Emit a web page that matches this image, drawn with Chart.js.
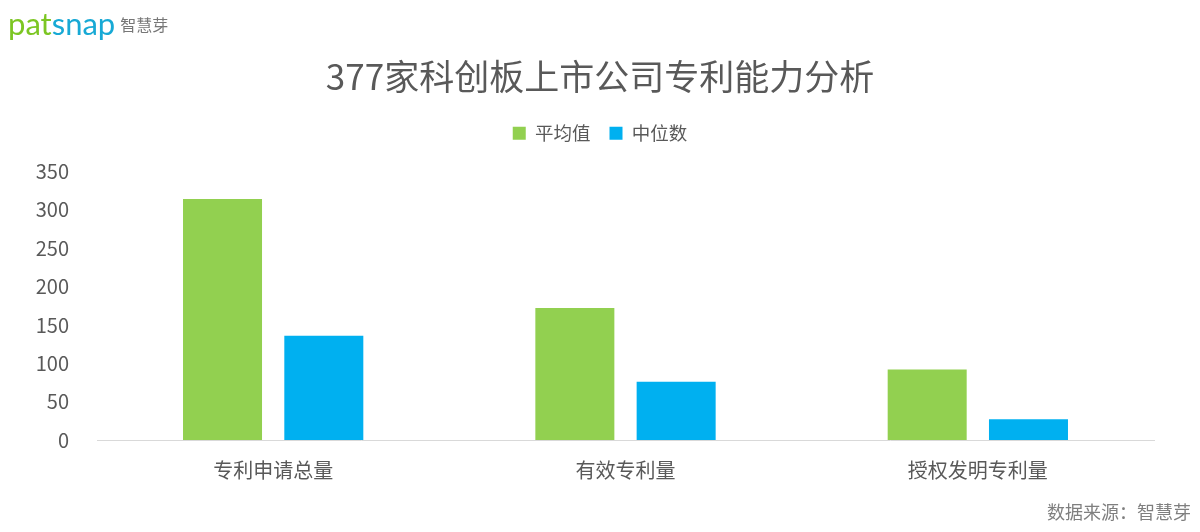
<!DOCTYPE html>
<html>
<head>
<meta charset="utf-8">
<script src="https://cdn.jsdelivr.net/npm/chart.js@4.4.0/dist/chart.umd.min.js"></script>
<style>
  html, body { margin: 0; padding: 0; background: #fff; }
  #wrap { position: relative; width: 1200px; height: 532px; font-family: "Noto Sans CJK SC", "Noto Sans", sans-serif; }
  #logo { position: absolute; left: 8px; top: 4px; font-size: 31px; font-family: "Lato", "Noto Sans", sans-serif; white-space: nowrap; }
  #logo .g { color: #7cc623; }
  #logo .b { color: #17a9d5; }
  #logo .cn { color: #777; font-size: 16px; font-family: "Noto Sans CJK SC", sans-serif; margin-left: 5px; vertical-align: 4px; }
  #source { position: absolute; right: 9px; top: 498px; font-size: 18px; color: #7f7f7f; }
</style>
</head>
<body>
<div id="wrap">
  <canvas id="patentChart" width="1200" height="532"></canvas>
  <div id="logo"><span class="g">pat</span><span class="b">snap</span><span class="cn">智慧芽</span></div>
  <div id="source">数据来源：智慧芽</div>
</div>
<script>
  // data
  const categories = ['专利申请总量', '有效专利量', '授权发明专利量'];
  const meanValues = [314, 172, 92];
  const medianValues = [136, 76, 27];
  const seriesNames = ['平均值', '中位数'];
  const chartTitle = '377家科创板上市公司专利能力分析';

  const textColor = '#595959';
  const fontFamily = '"Noto Sans CJK SC", "Noto Sans", sans-serif';

  // make the legend box taller so the plot starts lower
  const legendSpacer = {
    id: 'legendSpacer',
    beforeLayout(chart) {
      const legend = chart.legend;
      if (legend && !legend._spaced) {
        const fit = legend.fit;
        legend.fit = function() {
          fit.call(this);
          this.height += 19;
        };
        legend._spaced = true;
      }
    }
  };

  new Chart(document.getElementById('patentChart').getContext('2d'), {
    type: 'bar',
    data: {
      labels: categories,
      datasets: [{
        label: seriesNames[0],
        data: meanValues,
        backgroundColor: '#92d050'
      }, {
        label: seriesNames[1],
        data: medianValues,
        backgroundColor: '#00b0f0'
      }]
    },
    plugins: [legendSpacer],
    options: {
      responsive: false,
      animation: false,
      categoryPercentage: 0.575,
      barPercentage: 0.78,
      layout: { padding: { left: 0, right: 0, bottom: 32, top: 0 } },
      plugins: {
        title: {
          display: true,
          text: chartTitle,
          color: textColor,
          font: { family: fontFamily, size: 35, weight: 'normal' },
          padding: { top: 56, bottom: 7 }
        },
        legend: {
          display: true,
          labels: {
            color: textColor,
            font: { family: fontFamily, size: 18.5 },
            boxWidth: 13,
            boxHeight: 13,
            padding: 19
          }
        },
        tooltip: { enabled: false }
      },
      scales: {
        x: {
          grid: { display: false },
          border: { display: true, color: '#d9d9d9', width: 1 },
          ticks: { color: textColor, font: { family: fontFamily, size: 20 }, padding: 10 },
          afterFit: function(scale) { scale.height = 60; }
        },
        y: {
          min: 0,
          max: 350,
          grid: { display: false },
          border: { display: false },
          ticks: { stepSize: 50, color: textColor, font: { family: fontFamily, size: 20 }, padding: 20 },
          afterFit: function(scale) { scale.width = 97; }
        },
        yRight: {
          position: 'right',
          min: 0,
          max: 350,
          grid: { display: false },
          border: { display: false },
          ticks: { display: false },
          afterFit: function(scale) { scale.width = 46; }
        }
      }
    }
  });
</script>
</body>
</html>
